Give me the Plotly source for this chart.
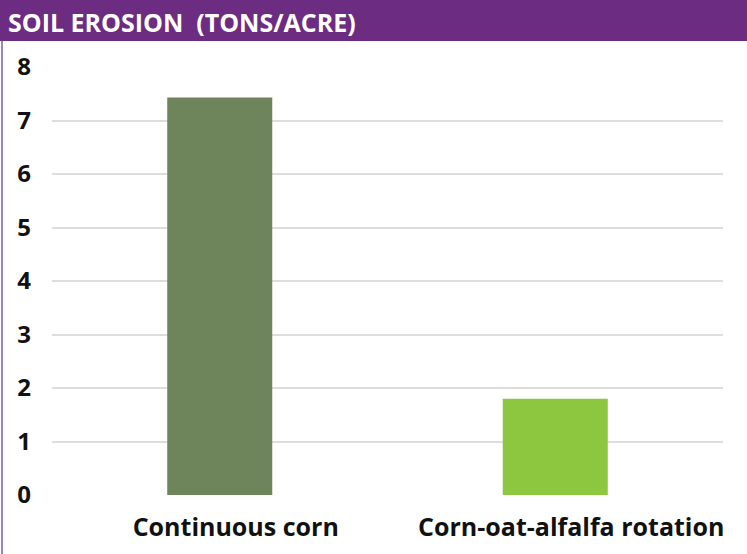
import plotly.graph_objects as go

categories = ["Continuous corn", "Corn-oat-alfalfa rotation"]
values = [7.43, 1.8]
bar_colors = ["#6E845A", "#8DC63F"]
tick_vals = [0, 1, 2, 3, 4, 5, 6, 7, 8]
title_text = "SOIL EROSION\u00a0\u00a0(TONS/ACRE)"

W, H = 747, 554
L, R, T, B = 52, 24, 67, 59
pw, ph = W - L - R, H - T - B

def px_x(x):
    return (x - L) / pw

def px_y(y):
    return 1 - (y - T) / ph

fig = go.Figure(go.Bar(x=categories, y=values, marker_color=bar_colors, marker_line_width=0, width=0.313))

fig.update_layout(
    width=W, height=H,
    margin=dict(l=L, r=R, t=T, b=B),
    paper_bgcolor="white", plot_bgcolor="white",
    showlegend=False,
    font=dict(family="Open Sans", color="#111111"),
    xaxis=dict(showgrid=False, showline=False, zeroline=False, ticks="",
               tickfont=dict(size=25, family="Open Sans", weight="bold", color="#111111"),
               ticklabelstandoff=15, ticklabelshift=16),
    yaxis=dict(range=[0, 8], tickvals=tick_vals, showgrid=True, gridcolor="#DDDDDD", gridwidth=2,
               zeroline=False, showline=False, ticks="",
               tickfont=dict(size=24, family="Open Sans", weight="bold", color="#111111"),
               ticklabelstandoff=20),
    shapes=[
        dict(type="rect", xref="paper", yref="paper", x0=px_x(0), x1=px_x(W), y0=px_y(41), y1=px_y(0),
             fillcolor="#6B2C82", line_width=0, layer="above"),
        dict(type="line", xref="paper", yref="paper", x0=px_x(2), x1=px_x(2), y0=px_y(41), y1=px_y(H),
             line=dict(color="#7D5BB0", width=1.5)),
    ],
    annotations=[
        dict(text=title_text, xref="paper", yref="paper", x=px_x(6), y=px_y(22), xanchor="left", yanchor="middle",
             showarrow=False, font=dict(size=25, family="Open Sans", weight="bold", color="white")),
    ],
)

fig.write_html("out.html", config={"displayModeBar": False},
               post_script="document.body.style.margin='0';document.body.style.padding='0';")
